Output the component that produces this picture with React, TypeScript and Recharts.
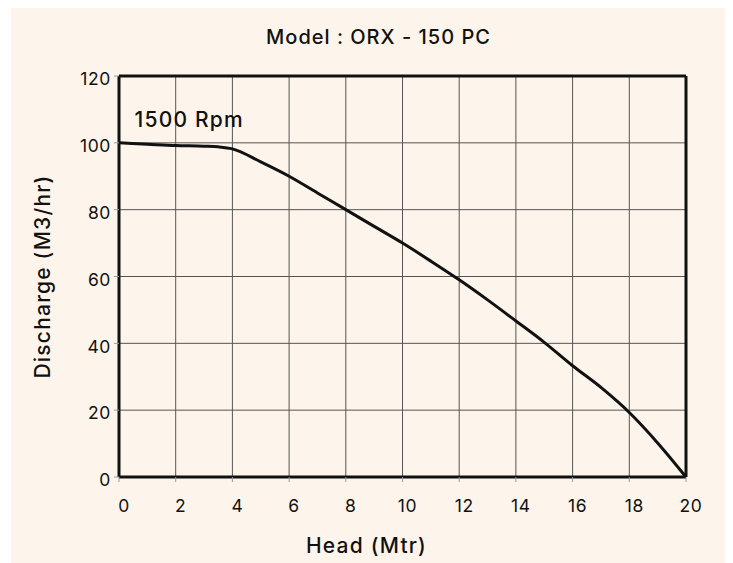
import { LineChart, Line, XAxis, YAxis, CartesianGrid, ReferenceLine, ReferenceDot } from 'recharts'

const head = [0, 1, 2, 3, 3.5, 4, 5, 6, 7, 8, 9, 10, 11, 12, 13, 14, 15, 16, 17, 18, 19, 20]
const discharge = [100, 99.6, 99.2, 99, 98.8, 98.2, 94.3, 90, 85, 80, 75, 70, 64.6, 59, 53, 46.7, 40.3, 33.3, 26.8, 19.3, 10.2, 0]
const xTicks = [0, 2, 4, 6, 8, 10, 12, 14, 16, 18, 20]
const yTicks = [0, 20, 40, 60, 80, 100, 120]

const data = head.map((h, i) => ({ head: h, discharge: discharge[i] }))

const font = "Inter, 'Noto Sans', sans-serif"
const ink = '#111'

function RpmLabel(props: any) {
    const { viewBox } = props
    return (
        <text x={viewBox.x} y={viewBox.y} fontSize={21} fontWeight={500} letterSpacing={1.2} fill={ink} fontFamily={font} dominantBaseline="central">
            1500 Rpm
        </text>
    )
}

export default function App() {
    return (
        <div style={{ position: 'relative', width: 714, height: 555, marginLeft: 3, background: '#fdf5eb', fontFamily: font }}>
            <div style={{ position: 'absolute', top: 17, left: 0, width: 735, textAlign: 'center', fontSize: 20, fontWeight: 500, letterSpacing: 1, lineHeight: '24px', color: ink }}>
                Model : ORX - 150 PC
            </div>
            <LineChart width={714} height={555} data={data} margin={{ top: 68, right: 39, left: 20, bottom: 0 }}>
                <CartesianGrid stroke="#555" strokeWidth={1} vertical horizontal verticalValues={xTicks} />
                <XAxis
                    dataKey="head"
                    type="number"
                    domain={[0, 20]}
                    ticks={xTicks}
                    height={86}
                    tickSize={5}
                    tickMargin={18}
                    tick={{ fill: ink, fontSize: 17.5, fontFamily: font, dx: 5, letterSpacing: 0.6 }}
                    tickLine={{ stroke: '#999' }}
                    axisLine={{ stroke: ink, strokeWidth: 3 }}
                    label={{ value: 'Head (Mtr)', position: 'insideBottom', offset: 10, dx: -36, fontSize: 21, fontWeight: 500, letterSpacing: 1.2, fill: ink, fontFamily: font }}
                />
                <YAxis
                    type="number"
                    domain={[0, 120]}
                    ticks={yTicks}
                    width={88}
                    tickSize={5}
                    tickMargin={3}
                    tick={{ fill: ink, fontSize: 17.5, fontFamily: font, dy: 3, letterSpacing: 0.6 }}
                    tickLine={{ stroke: '#999' }}
                    axisLine={{ stroke: ink, strokeWidth: 3 }}
                    label={{ value: 'Discharge (M3/hr)', angle: -90, position: 'insideLeft', offset: 12, fontSize: 21, fontWeight: 500, letterSpacing: 1.2, fill: ink, fontFamily: font, style: { textAnchor: 'middle' } }}
                />
                <ReferenceLine y={120} stroke={ink} strokeWidth={3} />
                <ReferenceLine x={20} stroke={ink} strokeWidth={3} />
                <ReferenceDot x={0.55} y={107} r={0} fill="none" stroke="none" label={<RpmLabel />} />
                <Line
                    type="monotone"
                    dataKey="discharge"
                    stroke={ink}
                    strokeWidth={3}
                    dot={false}
                    isAnimationActive={false}
                />
            </LineChart>
        </div>
    )
}
